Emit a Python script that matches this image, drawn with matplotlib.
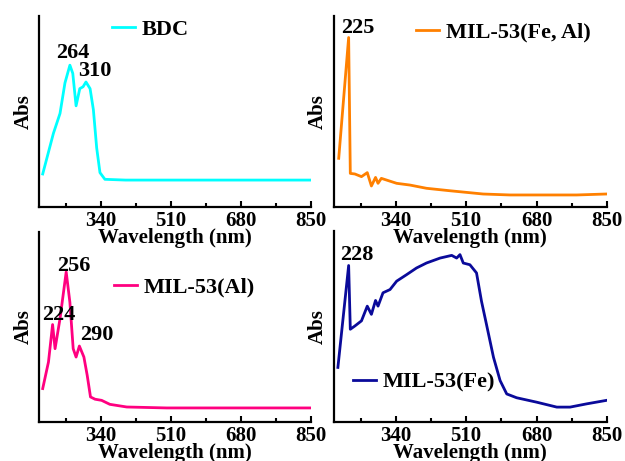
import matplotlib
matplotlib.use('Agg')
import matplotlib.pyplot as plt
from matplotlib.ticker import MultipleLocator

plt.rcParams['font.family'] = ['Liberation Serif', 'DejaVu Serif']
plt.rcParams['font.weight'] = 'bold'

# BDC spectrum (relative absorbance)
bdc_wl = [199, 225, 241, 253, 265, 272, 280, 289, 297, 304, 314, 322, 330, 338, 350, 400, 850]
bdc_abs = [0.173, 0.386, 0.49, 0.65, 0.743, 0.70, 0.53, 0.62, 0.63, 0.655, 0.62, 0.51, 0.31, 0.18, 0.145, 0.141, 0.141]

# MIL-53(Fe, Al)
feal_wl = [202, 226, 230, 241, 257, 271, 281, 291, 297, 305, 342, 374, 414, 471, 551, 616, 777, 848]
feal_abs = [0.255, 0.888, 0.176, 0.173, 0.159, 0.18, 0.11, 0.155, 0.124, 0.15, 0.124, 0.115, 0.098, 0.085, 0.068, 0.063, 0.063, 0.068]

# MIL-53(Al)
al_wl = [199, 213, 223, 229, 241, 256, 265, 273, 280, 288, 299, 307, 315, 326, 342, 362, 403, 500, 848]
al_abs = [0.176, 0.316, 0.513, 0.386, 0.544, 0.79, 0.63, 0.386, 0.342, 0.40, 0.342, 0.246, 0.132, 0.12, 0.114, 0.093, 0.079, 0.074, 0.074]

# MIL-53(Fe)
fe_wl = [200, 226, 230, 241, 257, 271, 281, 291, 297, 309, 326, 342, 366, 390, 414, 447, 475, 487,
         495, 503, 519, 535, 547, 559, 576, 592, 608, 632, 680, 729, 761, 801, 848]
fe_abs = [0.286, 0.82, 0.486, 0.503, 0.53, 0.607, 0.564, 0.637, 0.607, 0.677, 0.694, 0.738, 0.772, 0.807,
          0.833, 0.859, 0.873, 0.859, 0.877, 0.833, 0.824, 0.781, 0.633, 0.512, 0.339, 0.217, 0.147,
          0.127, 0.104, 0.078, 0.078, 0.095, 0.113]

panels = [
    dict(wl=bdc_wl, a=bdc_abs, name='BDC', color='#00FFFF',
         rect=[0.0624, 0.551, 0.435, 0.414], leg=(0.268, 0.93),
         peaks=[('264', 272, 0.806), ('310', 326, 0.712)]),
    dict(wl=feal_wl, a=feal_abs, name='MIL-53(Fe, Al)', color='#FF8000',
         rect=[0.534, 0.551, 0.437, 0.414], leg=(0.30, 0.916),
         peaks=[('225', 247, 0.937)]),
    dict(wl=al_wl, a=al_abs, name='MIL-53(Al)', color='#FF0080',
         rect=[0.0624, 0.0846, 0.435, 0.412], leg=(0.276, 0.71),
         peaks=[('256', 275, 0.82), ('224', 237, 0.565), ('290', 330, 0.456)]),
    dict(wl=fe_wl, a=fe_abs, name='MIL-53(Fe)', color='#0A0A9A',
         rect=[0.534, 0.0846, 0.437, 0.414], leg=(0.07, 0.208),
         peaks=[('228', 245, 0.877)]),
]

fig = plt.figure(figsize=(6.25, 4.61), dpi=100)
for i, p in enumerate(panels):
    ax = fig.add_axes(p['rect'])
    ax.set_facecolor('none')
    ax.set_zorder(10 - i)  # top row labels stay visible above lower panels
    ax.plot(p['wl'], p['a'], color=p['color'], lw=2, label=p['name'])
    ax.set_xlim(190, 850)
    ax.set_ylim(0, 1)
    ax.spines['top'].set_visible(False)
    ax.spines['right'].set_visible(False)
    for s in ('left', 'bottom'):
        ax.spines[s].set_linewidth(1.6)
    ax.set_yticks([])
    ax.set_xticks([340, 510, 680, 850])
    ax.xaxis.set_minor_locator(MultipleLocator(85))
    ax.tick_params(axis='x', which='both', direction='in', width=1.5, labelsize=15, pad=3)
    ax.tick_params(axis='x', which='major', length=4)
    ax.tick_params(axis='x', which='minor', length=3)
    ax.set_xlabel('Wavelength (nm)', fontsize=15, fontweight='bold', labelpad=-2.5)
    ax.set_ylabel('Abs', fontsize=15, fontweight='bold', labelpad=4)
    for txt, x, y in p['peaks']:
        ax.text(x, y, txt, fontsize=16, fontweight='bold', ha='center', va='center')
    ax.legend(loc='center left', bbox_to_anchor=p['leg'], frameon=False,
              fontsize=16, handlelength=1.05, handletextpad=0.3,
              borderpad=0, borderaxespad=0)

plt.savefig('out.png', dpi=100)
plt.close()
